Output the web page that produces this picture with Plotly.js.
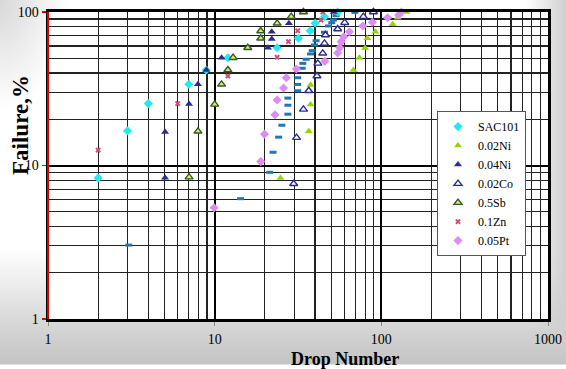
<!DOCTYPE html>
<html>
<head>
<meta charset="utf-8">
<script src="https://cdn.plot.ly/plotly-3.0.1.min.js"></script>
<style>
  html, body { margin: 0; padding: 0; }
  body {
    width: 566px; height: 369px; overflow: hidden;
    background:
      radial-gradient(ellipse 70px 110px at 0px 0px, #d8d8d8 0%, rgba(216,216,216,0) 100%),
      linear-gradient(to top, #ffffff 0px, #ffffff 4px, #c4c4c4 5px, #cfcfcf 30px, rgba(255,255,255,0) 120px),
      linear-gradient(to left, #cfcfcf 0px, rgba(255,255,255,0) 40px),
      #ffffff;
  }
  #chart { width: 566px; height: 369px; }
</style>
</head>
<body>
<div id="chart"></div>
<script>
// ---- data ----
const seriesNames = ["SAC101", "0.02Ni", "0.04Ni", "0.02Co", "0.5Sb", "0.1Zn", "0.05Pt"];

const sac101_x = [2, 3, 4, 7, 8.9, 12, 23.7, 31.8, 37.4, 40.1, 45.6, 54.7];
const sac101_y = [8.3, 16.8, 25.3, 33.8, 41.9, 50.4, 58.5, 67.4, 75.5, 84.4, 93.2, 100];

const ni02_x = [24.8, 36.7, 37.6, 37.6, 68.0, 73.8, 79.9, 82.4, 92.1, 116.9, 125.2, 141.8];
const ni02_y = [8.3, 16.7, 25.0, 33.4, 41.9, 50.4, 58.3, 67.4, 74.4, 83.2, 91.8, 100];

const ni04_x = [5.04, 5.04, 7.02, 7.94, 8.92, 11.0, 20.9, 22.0, 22.0, 27.9, 51.8];
const ni04_y = [8.33, 16.5, 25.2, 33.8, 41.9, 50.4, 58.5, 66.7, 74.4, 84.4, 100];

const co02_x = [29.8, 31.0, 34.1, 36.7, 41.1, 41.6, 44.5, 45.6, 46.2, 54.7, 60.3, 78.0, 89.6];
const co02_y = [7.6, 15.2, 23.2, 30.7, 38.3, 46.3, 53.8, 62.5, 70.8, 77.5, 85.2, 93.2, 100];

const sb05_x = [7.02, 7.94, 10, 11.0, 12.0, 12.9, 15.8, 18.9, 18.9, 23.7, 28.8, 34.1];
const sb05_y = [8.4, 16.7, 25.0, 33.8, 41.9, 50.4, 58.5, 67.4, 75.2, 84.4, 93.2, 100];

const zn01_x = [2.0, 6.0, 12.0, 23.7, 27.7, 31.5, 43.5, 44.5];
const zn01_y = [12.6, 25.3, 38.3, 50.7, 64.1, 75.5, 88.7, 100];

const pt005_x = [9.93, 18.9, 19.9, 23.0, 23.7, 25.9, 26.9, 30.9, 45.8, 54.7, 56.3, 57.4, 59.5, 64.3, 77.3, 88.3, 109, 127, 132];
const pt005_y = [5.3, 10.6, 16.0, 21.4, 26.7, 32.0, 37.3, 42.5, 47.7, 54.1, 58.7, 64.1, 69.0, 74.4, 81.1, 85.7, 91.8, 95.6, 100];

// unlabeled blue-dash series
const dash_x = [3.05, 14.3, 21.4, 22.4, 24.2, 25.3, 27.5, 27.5, 27.5, 31.5, 31.5, 31.5, 33.5, 33.8, 35.4, 37.6, 38.5, 39.7, 40.6, 45.6, 48.2, 50.4, 51.6, 53.5, 69.4];
const dash_y = [3.03, 6.08, 9.03, 12.2, 15.3, 18.3, 21.6, 24.7, 27.5, 30.7, 33.7, 37.3, 43.0, 46.3, 49.2, 53.3, 56.0, 61.0, 65.0, 73.8, 81.1, 85.2, 88.7, 94.6, 99.5];

const xTickVals = [1, 10, 100, 1000];
const xTickText = ["1", "10", "100", "1000"];
const yTickVals = [1, 10, 100];
const yTickText = ["1", "10", "100"];

// ---- traces ----
const base = {type: "scatter", mode: "markers", cliponaxis: false};
const traces = [
  Object.assign({}, base, {x: dash_x, y: dash_y, name: "", showlegend: false,
    marker: {symbol: "line-ew-open", size: 5, line: {color: "#0000dd", width: 3}}}),
  Object.assign({}, base, {x: sac101_x, y: sac101_y, name: seriesNames[0],
    marker: {symbol: "diamond", size: 7, color: "#22e8f0"}}),
  Object.assign({}, base, {x: ni02_x, y: ni02_y, name: seriesNames[1],
    marker: {symbol: "triangle-up", size: 7, color: "#96d400"}}),
  Object.assign({}, base, {x: ni04_x, y: ni04_y, name: seriesNames[2],
    marker: {symbol: "triangle-up", size: 7, color: "#2b2b8e"}}),
  Object.assign({}, base, {x: co02_x, y: co02_y, name: seriesNames[3],
    marker: {symbol: "triangle-up", size: 7, color: "#ffffff", line: {color: "#2b2b8e", width: 1.4}}}),
  Object.assign({}, base, {x: sb05_x, y: sb05_y, name: seriesNames[4],
    marker: {symbol: "triangle-up", size: 7, color: "#e8e860", line: {color: "#2f5a2f", width: 1.4}}}),
  Object.assign({}, base, {x: zn01_x, y: zn01_y, name: seriesNames[5],
    marker: {symbol: "x", size: 5, color: "#d0507a"}}),
  Object.assign({}, base, {x: pt005_x, y: pt005_y, name: seriesNames[6],
    marker: {symbol: "diamond", size: 7, color: "#dd8cf2"}})
];

const serif = "Liberation Serif, Times New Roman, serif";

const layout = {
  width: 566, height: 369,
  margin: {l: 48, r: 18, t: 12, b: 50, pad: 0},
  paper_bgcolor: "rgba(0,0,0,0)",
  plot_bgcolor: "#ffffff",
  showlegend: true,
  xaxis: {
    type: "log", range: [0, 3],
    tickmode: "array", tickvals: xTickVals, ticktext: xTickText,
    tickfont: {family: serif, size: 14, color: "#000"},
    ticks: "outside", ticklen: 4, tickcolor: "#888", tickwidth: 1,
    ticklabelstandoff: 1,
    showgrid: true, gridcolor: "#000", gridwidth: 2,
    minor: {dtick: "D1", showgrid: true, gridcolor: "#222", gridwidth: 1.2, ticks: ""},
    showline: true, linecolor: "#000", linewidth: 3, mirror: true,
    zeroline: false
  },
  yaxis: {
    type: "log", range: [0, 2],
    tickmode: "array", tickvals: yTickVals, ticktext: yTickText,
    tickfont: {family: serif, size: 14, color: "#000"},
    ticks: "outside", ticklen: 4, tickcolor: "#e00000", tickwidth: 1.5,
    showgrid: true, gridcolor: "#000", gridwidth: 2,
    minor: {dtick: "D1", showgrid: true, gridcolor: "#222", gridwidth: 1.2, ticks: ""},
    showline: true, linecolor: "#000", linewidth: 2.5, mirror: true,
    zeroline: false
  },
  shapes: [
    {type: "line", xref: "x domain", yref: "y domain", x0: 0, x1: 0, y0: 0, y1: 1,
     line: {color: "#e00000", width: 2}}
  ],
  legend: {
    x: 0.778, xanchor: "left", y: 0.441, yanchor: "middle",
    bgcolor: "#ffffff", bordercolor: "#555", borderwidth: 1,
    font: {family: serif, size: 12, color: "#000"},
    itemwidth: 30, tracegroupgap: 0
  },
  annotations: [
    {text: "<b>Failure,%</b>", xref: "paper", yref: "paper", x: -0.054, y: 0.632,
     xanchor: "center", yanchor: "middle", textangle: -90, showarrow: false,
     font: {family: serif, size: 23, color: "#000"}},
    {text: "<b>Drop Number</b>", xref: "paper", yref: "paper", x: 0.594, y: -0.165,
     xanchor: "center", yanchor: "bottom", showarrow: false, borderpad: 0,
     font: {family: serif, size: 18, color: "#000"}}
  ]
};

Plotly.newPlot("chart", traces, layout, {staticPlot: true, displayModeBar: false});
</script>
</body>
</html>
